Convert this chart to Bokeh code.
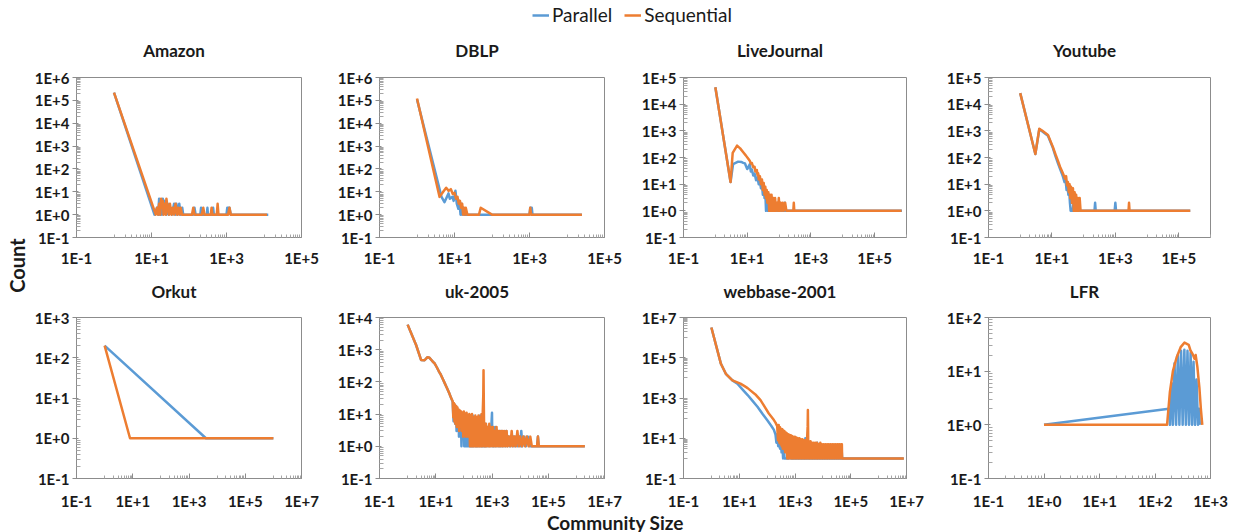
import math
from bokeh.plotting import figure
from bokeh.layouts import column, row
from bokeh.models import (FixedTicker, CustomJSTickFormatter, Legend, LegendItem,
                          Label, Range1d)
from bokeh.embed import file_html
from bokeh.resources import INLINE

BLUE = "#5B9BD5"
ORANGE = "#ED7D31"
FONT = "Lato"
TXT = "#1a1a1a"

# ---------------- data: (community size, count) ----------------
amazon_par = [(1, 2.2e5), (12, 1), (14, 2), (15, 1), (16, 5), (17, 1), (18, 3), (19, 1), (20, 5), (21, 2),
              (23, 4), (25, 1), (27, 3), (29, 1), (32, 2), (35, 1), (40, 3), (43, 1), (46, 3), (50, 1),
              (55, 3), (60, 1), (66, 2), (70, 1), (130, 1), (140, 2), (150, 1), (200, 1), (210, 2), (220, 1),
              (300, 1), (310, 2), (320, 1), (420, 1), (440, 2), (460, 1), (1000, 1), (1050, 2), (1150, 2),
              (1200, 2), (1300, 1), (13000, 1)]
amazon_seq = [(1, 2.2e5), (13, 1), (14, 2), (15, 1), (16, 3), (17, 1), (18, 5), (19, 2), (20, 4), (21, 1),
              (22, 3), (24, 1), (25, 5), (27, 2), (29, 1), (31, 3), (34, 1), (37, 2), (40, 1), (44, 3),
              (48, 1), (52, 2), (56, 1), (60, 2), (65, 1), (120, 1), (130, 2), (140, 1), (220, 1), (240, 2),
              (260, 1), (380, 1), (400, 2), (420, 1), (550, 1), (580, 3), (610, 1), (1100, 1), (1200, 2),
              (1300, 1), (12000, 1)]

dblp_par = [(1, 1.1e5), (4.5, 6), (5.4, 3.5), (6.9, 8.5), (7.5, 5), (8.8, 6), (9.5, 4), (10.6, 11),
            (11.5, 3), (12.7, 1.8), (13.5, 4), (14.5, 1), (15.5, 3), (16, 1), (17, 2), (18, 1), (1000, 1),
            (1050, 2), (1150, 2), (1200, 1), (25000, 1)]
dblp_seq = [(1, 1.2e5), (4, 6), (5, 10), (6, 15), (7, 11), (8, 13), (9, 8), (10, 9), (11, 5), (12, 6),
            (13, 3), (14, 4), (15, 2), (16, 3), (17, 1), (18, 2), (19, 1), (20, 2), (22, 1), (45, 1),
            (50, 2), (100, 1), (1000, 1), (1050, 2), (1100, 1), (25000, 1)]

lj_par = [(1, 4.3e4), (3, 12), (3.6, 57), (5.2, 70), (6.5, 68), (7.5, 63), (8.5, 60), (10, 37), (11, 45),
          (12, 55), (13, 30), (14, 35), (15.5, 21), (17, 25), (19, 14), (21, 18), (23, 10), (25, 13),
          (27, 7), (29, 10), (31, 4), (33, 7), (35, 3), (37, 5), (39, 1), (42, 4), (45, 1), (48, 3),
          (52, 1), (56, 3), (60, 1), (66, 2), (72, 1), (100, 1), (105, 2), (110, 1), (145, 1), (150, 2),
          (155, 1), (7.2e5, 1)]
lj_seq = [(1, 4.3e4), (3, 12), (3.5, 150), (4.8, 280), (6, 220), (7.5, 157), (9, 120), (10.8, 89),
          (12, 75), (13, 60), (14, 62), (15.5, 43), (17, 45), (18, 30), (20, 34), (21, 22), (22, 26),
          (23, 15), (25, 20), (27, 10), (29, 15), (31, 6), (33, 11), (35, 4), (37, 8), (39, 3), (41, 6),
          (43, 2), (46, 5), (49, 1), (52, 4), (55, 1), (58, 4), (62, 1), (66, 3), (70, 1), (75, 3),
          (80, 1), (86, 2), (92, 1), (98, 3), (105, 1), (112, 2), (120, 1), (130, 2), (140, 1),
          (155, 2), (170, 1), (280, 1), (290, 2), (300, 1), (7e5, 1)]

yt_par = [(1, 2.6e4), (3, 135), (4, 1150), (5, 950), (7.5, 650), (10.7, 230), (13, 110), (15.5, 60),
          (18, 38), (22, 20), (25, 12), (27, 14), (29, 6), (31, 9), (33, 4), (35, 6), (37, 2), (39, 1),
          (45, 1), (48, 2), (52, 1), (220, 1), (230, 2), (240, 1), (950, 1), (1000, 2), (1050, 1),
          (2.3e5, 1)]
yt_seq = [(1, 2.6e4), (3, 135), (4, 1200), (5, 1000), (7.5, 700), (10.7, 250), (13, 130), (15.5, 75),
          (18, 45), (22, 26), (26, 16), (28, 20), (30, 9), (32, 12), (34, 5), (36, 10), (38, 3),
          (40, 8), (43, 2), (46, 7), (49, 1), (52, 5), (55, 1), (58, 4), (62, 1), (66, 3), (70, 1),
          (75, 3), (80, 1), (2600, 1), (2700, 2), (2800, 1), (2.3e5, 1)]

orkut_par = [(1, 200), (4000, 1), (1e6, 1)]
orkut_seq = [(1, 200), (8, 1), (1e6, 1)]

uk_par = [(1, 6000), (2, 1400), (3, 480), (4, 470), (5, 580), (6, 560), (7, 480), (8, 420), (9, 380),
          (11, 280), (13, 210), (15, 170), (18, 120), (21, 90), (25, 65), (30, 45), (35, 32), (40, 24),
          (43, 6), (46, 20), (49, 5), (52, 18), (55, 3), (58, 15), (61, 4), (64, 13), (67, 2), (70, 12),
          (74, 3), (78, 11), (82, 1), (87, 10), (92, 2), (97, 10), (103, 1), (109, 9), (115, 1),
          (122, 10), (130, 1), (138, 8), (146, 1), (155, 9), (165, 1), (175, 8), (190, 1), (205, 9),
          (220, 1), (240, 8), (260, 1), (280, 7), (300, 1), (325, 8), (350, 1), (380, 9), (410, 1),
          (440, 8), (470, 1), (500, 9), (540, 1), (580, 5), (620, 1), (670, 4), (720, 1), (780, 4),
          (850, 1), (930, 3), (1000, 11), (1030, 1), (1100, 3), (1200, 1), (1300, 4), (1400, 1),
          (1550, 3), (1700, 1), (1850, 3), (2000, 1), (2200, 3), (2400, 1), (2600, 2), (2900, 1),
          (3200, 3), (3500, 1), (3900, 2), (4300, 1), (4800, 2), (5300, 1), (5900, 2), (6500, 1),
          (7200, 2), (8000, 1), (9000, 2), (10000, 1), (11000, 3), (12000, 1), (14000, 2), (16000, 1),
          (19000, 2), (22000, 1), (26000, 1), (40000, 1), (43000, 2), (46000, 1), (2e6, 1)]
uk_seq = [(1, 6000), (2, 1400), (3, 480), (4, 470), (5, 580), (6, 560), (7, 480), (8, 420), (9, 380),
          (11, 280), (13, 210), (15, 170), (18, 120), (21, 90), (25, 65), (30, 45), (35, 32), (40, 25),
          (42, 8), (44, 22), (46, 6), (48, 20), (50, 5), (53, 18), (56, 4), (59, 16), (62, 5), (65, 14),
          (68, 3), (72, 13), (76, 4), (80, 12), (85, 3), (90, 11), (95, 2), (100, 12), (106, 3),
          (112, 10), (118, 2), (125, 11), (132, 2), (140, 9), (148, 2), (156, 10), (165, 1), (175, 9),
          (185, 1), (195, 10), (210, 1), (225, 8), (240, 1), (255, 9), (270, 1), (290, 8), (310, 1),
          (330, 9), (350, 1), (375, 8), (400, 1), (425, 10), (450, 1), (470, 12), (490, 40), (500, 230),
          (510, 30), (520, 6), (530, 1), (550, 5), (580, 1), (610, 5), (650, 1), (700, 4), (750, 1),
          (800, 5), (860, 1), (920, 4), (1000, 1), (1080, 4), (1160, 1), (1250, 3), (1350, 1),
          (1450, 4), (1560, 1), (1680, 3), (1800, 1), (1950, 3), (2100, 1), (2300, 3), (2500, 1),
          (2700, 3), (3000, 1), (3300, 3), (3600, 1), (4000, 2), (4500, 1), (5000, 3), (5600, 1),
          (6300, 2), (7000, 1), (8000, 3), (9000, 1), (10000, 2), (11500, 1), (13000, 2), (15000, 1),
          (17000, 2), (20000, 1), (23000, 2), (26000, 1), (30000, 1), (40000, 1), (43000, 2),
          (46000, 1), (2e6, 1)]

web_par = [(1, 3.2e6), (2.2, 5e4), (3.3, 1.6e4), (5.7, 7500), (8.6, 5100), (14, 2400), (20, 1400),
           (30, 720), (45, 370), (70, 155), (100, 80), (140, 42), (175, 26), (200, 15), (215, 6),
           (230, 16), (250, 4), (270, 11), (290, 3), (310, 8), (330, 2), (350, 6), (375, 1), (400, 4),
           (420, 1), (600, 1), (640, 3), (700, 1), (1000, 1), (1050, 4), (1100, 1), (1500, 1), (1600, 5),
           (1700, 1), (2300, 1), (2350, 10), (2400, 1), (3500, 1), (3600, 4), (3700, 1), (6000, 1),
           (6200, 6), (6400, 1), (11500, 1), (12000, 3), (12500, 1), (45000, 1), (47000, 3), (49000, 1),
           (8e6, 1)]
web_seq = [(1, 3.2e6), (2.2, 5e4), (3.3, 1.6e4), (5.7, 7500), (11, 5200), (15, 4000), (20, 3100),
           (25, 2400), (40, 1400), (58, 780), (80, 380), (115, 170), (140, 120), (175, 80), (200, 60),
           (230, 40), (245, 8), (260, 45), (275, 6), (290, 35), (305, 5), (320, 30), (335, 4), (350, 28),
           (365, 3), (380, 25), (400, 3), (420, 22), (440, 2), (460, 20), (480, 2), (500, 18), (530, 1),
           (560, 16), (590, 1), (620, 15), (660, 1), (700, 14), (740, 1), (780, 13), (830, 1), (880, 12),
           (930, 1), (990, 12), (1050, 1), (1120, 11), (1190, 1), (1270, 10), (1350, 1), (1440, 10),
           (1530, 1), (1630, 9), (1740, 1), (1850, 9), (1970, 1), (2100, 8), (2240, 1), (2400, 8),
           (2550, 1), (2700, 8), (2850, 40), (2900, 250), (2950, 30), (3000, 1), (3200, 7), (3400, 1),
           (3600, 7), (3850, 1), (4100, 6), (4400, 1), (4700, 6), (5000, 1), (5400, 6), (5800, 1),
           (6200, 6), (6600, 1), (7100, 5), (7600, 1), (8100, 6), (8700, 1), (9300, 5), (10000, 1),
           (10700, 5), (11500, 1), (12300, 5), (13200, 1), (14200, 5), (15200, 1), (16300, 5),
           (17500, 1), (18800, 5), (20200, 1), (21700, 5), (23300, 1), (25000, 5), (27000, 1),
           (29000, 5), (31000, 1), (33500, 5), (36000, 1), (39000, 5), (42000, 1), (45000, 5),
           (48000, 5), (49000, 1), (8e6, 1)]

lfr_par = [(1, 1), (178, 2), (186, 1), (198, 6), (210, 1), (225, 14), (240, 1), (258, 20), (275, 1),
           (295, 24), (315, 1), (338, 25), (360, 1), (385, 24), (410, 1), (438, 22), (465, 1), (495, 15),
           (525, 1), (560, 7), (595, 1), (625, 2), (640, 1)]
lfr_seq = [(1, 1), (165, 1), (185, 4), (210, 10), (245, 18), (290, 28), (340, 34), (405, 31), (438, 24),
           (475, 21), (515, 17), (540, 20), (580, 12), (630, 5), (670, 2), (711, 1)]

panels = [
    ("Amazon", amazon_par, amazon_seq, (-1, 5), (-1, 6), 2, 1),
    ("DBLP", dblp_par, dblp_seq, (-1, 5), (-1, 6), 2, 1),
    ("LiveJournal", lj_par, lj_seq, (-1, 6), (-1, 5), 2, 1),
    ("Youtube", yt_par, yt_seq, (-1, 6), (-1, 5), 2, 1),
    ("Orkut", orkut_par, orkut_seq, (-1, 7), (-1, 3), 2, 1),
    ("uk-2005", uk_par, uk_seq, (-1, 7), (-1, 4), 2, 1),
    ("webbase-2001", web_par, web_seq, (-1, 7), (-1, 7), 2, 2),
    ("LFR", lfr_par, lfr_seq, (-1, 3), (-1, 2), 1, 1),
]

# ---------------- layout geometry ----------------
CNT_W = 30
COL_LEFT = [46, 50, 50, 50]
COL_RIGHT = [28, 29, 32, 20]
COL_FW = [225, 225, 223, 222]
ROW_TOP = [12, 12]
ROW_BOT = [32, 32]
ROW_FH = [160, 161]
ROW_XSTAND = [11, 13]
HDR_H = 65          # legend + first-row titles
STRIP_H = 36        # second-row titles
FTR_H = 22
TOTAL_W = 1230
TITLE_SHIFT = -15   # titles sit a little left of the plot-area centre

col_starts = []
acc = 0
for c in range(4):
    col_starts.append(acc)
    acc += COL_LEFT[c] + COL_FW[c] + COL_RIGHT[c]
COL_CENTER = [col_starts[c] + COL_LEFT[c] + COL_FW[c] / 2 + TITLE_SHIFT for c in range(4)]

FMT = CustomJSTickFormatter(code="""
const e = Math.round(Math.log10(tick));
return "1E" + (e < 0 ? "-" : "+") + Math.abs(e);
""")


def log_ticks(lo, hi, step):
    major = [10.0 ** k for k in range(lo, hi + 1, step)]
    minor = []
    if step == 1:
        for k in range(lo, hi):
            minor += [m * 10.0 ** k for m in range(2, 10)]
    else:
        for k in range(lo, hi, 2):
            minor += [m * 10.0 ** (k + 1) for m in range(1, 10)]
    return major, minor


def make_panel(i, spec):
    title, par, seq, xd, yd, xs, ys = spec
    r, c = divmod(i, 4)
    p = figure(x_axis_type="log", y_axis_type="log",
               x_range=Range1d(10.0 ** xd[0], 10.0 ** xd[1]),
               y_range=Range1d(10.0 ** yd[0], 10.0 ** yd[1]),
               frame_width=COL_FW[c], frame_height=ROW_FH[r],
               min_border_left=COL_LEFT[c], min_border_right=COL_RIGHT[c],
               min_border_top=ROW_TOP[r], min_border_bottom=ROW_BOT[r],
               toolbar_location=None, output_backend="svg")
    p.grid.visible = False
    p.outline_line_color = "#8c8c8c"
    p.outline_line_width = 1

    xmaj, xmin = log_ticks(xd[0], xd[1], xs)
    ymaj, ymin = log_ticks(yd[0], yd[1], ys)
    p.xaxis.ticker = FixedTicker(ticks=xmaj, minor_ticks=xmin)
    p.yaxis.ticker = FixedTicker(ticks=ymaj, minor_ticks=ymin)
    for ax in (p.xaxis[0], p.yaxis[0]):
        ax.formatter = FMT
        ax.axis_line_color = "#8c8c8c"
        ax.major_tick_line_color = "#8c8c8c"
        ax.minor_tick_line_color = "#a6a6a6"
        ax.major_label_text_font = FONT
        ax.major_label_text_font_style = "bold"
        ax.major_label_text_font_size = "15px"
        ax.major_label_text_color = TXT
    xa = p.xaxis[0]
    xa.major_tick_in = 5
    xa.major_tick_out = 0
    xa.minor_tick_in = 3
    xa.minor_tick_out = 0
    xa.major_label_standoff = ROW_XSTAND[r]
    ya = p.yaxis[0]
    ya.major_tick_in = 2
    ya.major_tick_out = 4
    ya.minor_tick_in = 4
    ya.minor_tick_out = 0
    ya.major_label_standoff = 3

    px, py = zip(*par)
    sx, sy = zip(*seq)
    p.line(list(px), list(py), line_color=BLUE, line_width=2.5, line_join="round")
    p.line(list(sx), list(sy), line_color=ORANGE, line_width=2.5, line_join="round")
    return p


def blank(w, h):
    b = figure(width=w, height=h, x_range=Range1d(0, w), y_range=Range1d(0, h),
               x_axis_type=None, y_axis_type=None, min_border=0,
               toolbar_location=None, output_backend="svg")
    b.outline_line_color = None
    b.grid.visible = False
    return b


def title_label(x, y, text):
    return Label(x=x, y=y, text=text, text_align="center", text_baseline="middle",
                 text_font=FONT, text_font_style="bold", text_font_size="17px", text_color=TXT)


figs = [make_panel(i, s) for i, s in enumerate(panels)]
row1 = row(*figs[:4], spacing=0)
row2 = row(*figs[4:], spacing=0)

# header: legend + titles of the first row
hdr = blank(TOTAL_W, HDR_H)
ax_, ay_ = zip(*amazon_par)
bx_, by_ = zip(*amazon_seq)
r1 = hdr.line(list(ax_), list(ay_), line_color=BLUE, line_width=2.5, visible=False)
r2 = hdr.line(list(bx_), list(by_), line_color=ORANGE, line_width=2.5, visible=False)
leg = Legend(items=[LegendItem(label="Parallel", renderers=[r1]),
                    LegendItem(label="Sequential", renderers=[r2])],
             orientation="horizontal", location=(532, HDR_H - 26), padding=0, margin=0,
             spacing=12, glyph_width=17, glyph_height=18, label_standoff=3,
             label_height=18, label_text_font=FONT, label_text_font_size="19px",
             label_text_color=TXT, border_line_alpha=0, background_fill_alpha=0,
             click_policy="none")
hdr.add_layout(leg)
for c in range(4):
    hdr.add_layout(title_label(CNT_W + COL_CENTER[c], HDR_H - 50, panels[c][0]))

# strip with titles of the second row
strip = blank(TOTAL_W - CNT_W, STRIP_H)
for c in range(4):
    strip.add_layout(title_label(COL_CENTER[c], STRIP_H - 22, panels[4 + c][0]))

rows_h = sum(ROW_TOP) + sum(ROW_BOT) + sum(ROW_FH) + STRIP_H

# y label "Count"
cnt = blank(CNT_W, rows_h)
cnt.add_layout(Label(x=16, y=rows_h - (265 - HDR_H), text="Count", angle=math.pi / 2,
                     text_align="center", text_baseline="middle", text_font=FONT,
                     text_font_style="bold", text_font_size="20px", text_color=TXT))

# x label
ftr = blank(TOTAL_W, FTR_H)
ftr.add_layout(Label(x=615, y=FTR_H - 10, text="Community Size", text_align="center",
                     text_baseline="middle", text_font=FONT, text_font_style="bold",
                     text_font_size="19px", text_color=TXT))

p = column(hdr, row(cnt, column(row1, strip, row2, spacing=0), spacing=0), ftr, spacing=0)

open("out.html", "w").write(file_html(p, INLINE))
